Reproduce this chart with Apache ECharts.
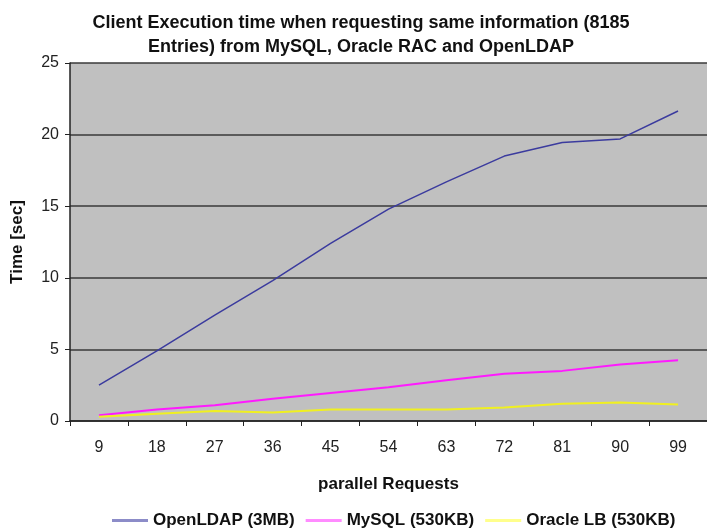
<!DOCTYPE html>
<html>
<head>
<meta charset="utf-8">
<script src="https://cdn.jsdelivr.net/npm/echarts@6/dist/echarts.min.js"></script>
<style>
html,body{margin:0;padding:0;background:#fff;}
#main{width:707px;height:531px;}
</style>
</head>
<body>
<div id="main"></div>
<script>
var requests = ['9','18','27','36','45','54','63','72','81','90','99'];
var openLdap = [2.5, 4.9, 7.4, 9.8, 12.4, 14.8, 16.7, 18.5, 19.45, 19.7, 21.65];
var mySql    = [0.4, 0.8, 1.1, 1.55, 1.95, 2.35, 2.85, 3.3, 3.5, 3.95, 4.25];
var oracleLb = [0.3, 0.5, 0.7, 0.6, 0.8, 0.8, 0.8, 0.95, 1.2, 1.3, 1.15];
var yTicks = [0, 5, 10, 15, 20, 25];

var chart = echarts.init(document.getElementById('main'));
var font = 'Liberation Sans, Arial, sans-serif';

var option = {
	animation: false,
	backgroundColor: '#fff',
	title: {
		text: 'Client Execution time when requesting same information (8185\nEntries) from MySQL, Oracle RAC and OpenLDAP',
		left: 356,
		textAlign: 'center',
		top: 6,
		textStyle: {
			fontFamily: font,
			fontSize: 18,
			fontWeight: 'bold',
			color: '#111',
			lineHeight: 24
		}
	},
	legend: {
		top: 507,
		left: 107,
		itemWidth: 36,
		itemHeight: 3,
		itemGap: 11,
		icon: 'rect',
		textStyle: {fontFamily: font, fontSize: 17, fontWeight: 'bold', color: '#111'},
		data: [
			{name: 'OpenLDAP (3MB)', itemStyle: {color: '#8c8cc8'}},
			{name: 'MySQL (530KB)', itemStyle: {color: '#ff8cff'}},
			{name: 'Oracle LB (530KB)', itemStyle: {color: '#ffff8c'}}
		]
	},
	grid: {
		left: 70,
		right: -2,
		top: 63,
		bottom: 110,
		show: true,
		backgroundColor: '#c0c0c0',
		borderWidth: 0
	},
	xAxis: {
		type: 'category',
		data: requests,
		boundaryGap: true,
		name: 'parallel Requests',
		nameLocation: 'middle',
		nameGap: 55,
		nameTextStyle: {fontFamily: font, fontSize: 17, fontWeight: 'bold', color: '#111'},
		axisLine: {lineStyle: {color: '#222', width: 1.5}},
		axisTick: {show: true, length: 5, alignWithLabel: false, lineStyle: {color: '#222'}},
		axisLabel: {fontFamily: font, fontSize: 16, color: '#222', margin: 19}
	},
	yAxis: {
		type: 'value',
		min: yTicks[0],
		max: yTicks[yTicks.length - 1],
		interval: 5,
		name: 'Time [sec]',
		nameLocation: 'middle',
		nameGap: 44,
		nameRotate: 90,
		nameTextStyle: {fontFamily: font, fontSize: 17, fontWeight: 'bold', color: '#111'},
		axisLine: {show: true, lineStyle: {color: '#222', width: 1.5}},
		axisTick: {show: true, length: 5, lineStyle: {color: '#222'}},
		axisLabel: {fontFamily: font, fontSize: 16, color: '#222', margin: 11},
		splitLine: {show: true, lineStyle: {color: '#3a3a3a', width: 1.5}}
	},
	series: [
		{name: 'OpenLDAP (3MB)', type: 'line', data: openLdap, symbol: 'none', color: '#3b3b9e', lineStyle: {width: 1.5}},
		{name: 'MySQL (530KB)', type: 'line', data: mySql, symbol: 'none', color: '#ff1aff', lineStyle: {width: 2}},
		{name: 'Oracle LB (530KB)', type: 'line', data: oracleLb, symbol: 'none', color: '#f0f020', lineStyle: {width: 2}}
	]
};
chart.setOption(option);
</script>
</body>
</html>
